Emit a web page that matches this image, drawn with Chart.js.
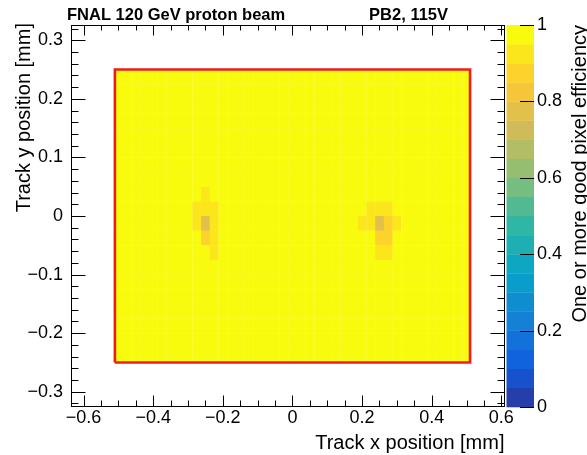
<!DOCTYPE html>
<html>
<head>
<meta charset="utf-8">
<script src="https://cdn.jsdelivr.net/npm/chart.js@4.4.1/dist/chart.umd.min.js"></script>
<style>
  html, body { margin: 0; padding: 0; background: #ffffff; }
  canvas { display: block; }
</style>
</head>
<body>
<canvas id="map" width="587" height="455"></canvas>
<script>
// ---- Efficiency map data (track positions in mm) ----
const xBinCenters = [-0.5, -0.475, -0.45, -0.425, -0.4, -0.375, -0.35, -0.325, -0.3, -0.275,
  -0.25, -0.225, -0.2, -0.175, -0.15, -0.125, -0.1, -0.075, -0.05, -0.025,
  0, 0.025, 0.05, 0.075, 0.1, 0.125, 0.15, 0.175, 0.2, 0.225,
  0.25, 0.275, 0.3, 0.325, 0.35, 0.375, 0.4, 0.425, 0.45, 0.475, 0.5];

// rows listed from the top of the sensor downwards
const yBinCenters = [0.2375, 0.2125, 0.1875, 0.1625, 0.1375, 0.1125, 0.0875, 0.0625, 0.0375, 0.0125,
  -0.0125, -0.0375, -0.0625, -0.0875, -0.1125, -0.1375, -0.1625, -0.1875, -0.2125, -0.2375];

// one-or-more-good-pixel efficiency per bin, one row per yBinCenters entry
const efficiencyRows = [
  [1,1,1,1,1,1,1,1,1,1, 1,1,1,1,1,1,1,1,1,1, 1,1,1,1,1,1,1,1,1,1, 1,1,1,1,1,1,1,1,1,1,1],
  [1,1,1,1,1,1,1,1,1,1, 1,1,1,1,1,1,1,1,1,1, 1,1,1,1,1,1,1,1,1,1, 1,1,1,1,1,1,1,1,1,1,1],
  [1,1,1,1,1,1,1,1,1,1, 1,1,1,1,1,1,1,1,1,1, 1,1,1,1,1,1,1,1,1,1, 1,1,1,1,1,1,1,1,1,1,1],
  [1,1,1,1,1,1,1,1,1,1, 1,1,1,1,1,1,1,1,1,1, 1,1,1,1,1,1,1,1,1,1, 1,1,1,1,1,1,1,1,1,1,1],
  [1,1,1,1,1,1,1,1,1,1, 1,1,1,1,1,1,1,1,1,1, 1,1,1,1,1,1,1,1,1,1, 1,1,1,1,1,1,1,1,1,1,1],
  [1,1,1,1,1,1,1,1,1,1, 1,1,1,1,1,1,1,1,1,1, 1,1,1,1,1,1,1,1,1,1, 1,1,1,1,1,1,1,1,1,1,1],
  [1,1,1,1,1,1,1,1,1,1, 1,1,1,1,1,1,1,1,1,1, 1,1,1,1,1,1,1,1,1,1, 1,1,1,1,1,1,1,1,1,1,1],
  [1,1,1,1,1,1,1,1,1,1, 1,1,1,1,1,1,1,1,1,1, 1,1,1,1,1,1,1,1,1,1, 1,1,1,1,1,1,1,1,1,1,1],
  [1,1,1,1,1,1,1,1,1,1, 0.93,1,1,1,1,1,1,1,1,1, 1,1,1,1,1,1,1,1,1,1, 1,1,1,1,1,1,1,1,1,1,1],
  [1,1,1,1,1,1,1,1,1,0.93, 0.93,0.93,1,1,1,1,1,1,1,1, 1,1,1,1,1,1,1,1,1,0.93, 0.93,0.93,1,1,1,1,1,1,1,1,1],
  [1,1,1,1,1,1,1,1,1,0.93, 0.78,0.93,1,1,1,1,1,1,1,1, 1,1,1,1,1,1,1,1,0.94,0.93, 0.78,0.86,0.94,1,1,1,1,1,1,1,1],
  [1,1,1,1,1,1,1,1,1,1, 0.86,0.93,1,1,1,1,1,1,1,1, 1,1,1,1,1,1,1,1,1,1, 0.86,0.86,1,1,1,1,1,1,1,1,1],
  [1,1,1,1,1,1,1,1,1,1, 1,0.93,1,1,1,1,1,1,1,1, 1,1,1,1,1,1,1,1,1,1, 0.93,0.93,1,1,1,1,1,1,1,1,1],
  [1,1,1,1,1,1,1,1,1,1, 1,1,1,1,1,1,1,1,1,1, 1,1,1,1,1,1,1,1,1,1, 1,1,1,1,1,1,1,1,1,1,1],
  [1,1,1,1,1,1,1,1,1,1, 1,1,1,1,1,1,1,1,1,1, 1,1,1,1,1,1,1,1,1,1, 1,1,1,1,1,1,1,1,1,1,1],
  [1,1,1,1,1,1,1,1,1,1, 1,1,1,1,1,1,1,1,1,1, 1,1,1,1,1,1,1,1,1,1, 1,1,1,1,1,1,1,1,1,1,1],
  [1,1,1,1,1,1,1,1,1,1, 1,1,1,1,1,1,1,1,1,1, 1,1,1,1,1,1,1,1,1,1, 1,1,1,1,1,1,1,1,1,1,1],
  [1,1,1,1,1,1,1,1,1,1, 1,1,1,1,1,1,1,1,1,1, 1,1,1,1,1,1,1,1,1,1, 1,1,1,1,1,1,1,1,1,1,1],
  [1,1,1,1,1,1,1,1,1,1, 1,1,1,1,1,1,1,1,1,1, 1,1,1,1,1,1,1,1,1,1, 1,1,1,1,1,1,1,1,1,1,1],
  [1,1,1,1,1,1,1,1,1,1, 1,1,1,1,1,1,1,1,1,1, 1,1,1,1,1,1,1,1,1,1, 1,1,1,1,1,1,1,1,1,1,1]
];

// sensor outline (mm)
const sensorX = [-0.51, 0.51];
const sensorY = [-0.25, 0.25];

// labelled ticks
const xTickLabels = [-0.6, -0.4, -0.2, 0, 0.2, 0.4, 0.6];
const yTickLabels = [-0.3, -0.2, -0.1, 0, 0.1, 0.2, 0.3];
const zTickLabels = [0, 0.2, 0.4, 0.6, 0.8, 1];

const headerLeft = 'FNAL 120 GeV proton beam';
const headerRight = 'PB2, 115V';
const xTitle = 'Track x position [mm]';
const yTitle = 'Track y position [mm]';
const zTitle = 'One or more good pixel efficiency';

// ---- styling ----
const binWidth = 0.025;
const nLevels = 20;
const cellOverlap = 0.3;   // px, keeps only a faint seam between neighbouring bins
const FONT = "'Liberation Sans', Arial, Helvetica, sans-serif";

// ROOT "bird" palette
const birdStops = [0.0, 0.125, 0.25, 0.375, 0.5, 0.625, 0.75, 0.875, 1.0];
const birdRed   = [0.2082, 0.0592, 0.0780, 0.0232, 0.1802, 0.5301, 0.8186, 0.9956, 0.9764];
const birdGreen = [0.1664, 0.3599, 0.5041, 0.6419, 0.7178, 0.7492, 0.7328, 0.7862, 0.9832];
const birdBlue  = [0.5293, 0.8684, 0.8385, 0.7914, 0.6425, 0.4662, 0.3499, 0.1968, 0.0539];

function birdColor(t) {
  t = Math.max(0, Math.min(1, t));
  let i = 0;
  while (i < birdStops.length - 2 && t > birdStops[i + 1]) i++;
  const f = (t - birdStops[i]) / (birdStops[i + 1] - birdStops[i]);
  const mix = a => Math.round(255 * (a[i] + (a[i + 1] - a[i]) * f));
  return `rgb(${mix(birdRed)},${mix(birdGreen)},${mix(birdBlue)})`;
}
function levelColor(v) {
  const k = Math.min(nLevels - 1, Math.max(0, Math.floor(v * nLevels + 1e-9)));
  return birdColor((k + 0.99) / nLevels);
}

function fmtTick(v) {
  if (Math.abs(v) < 1e-9) return '0';
  return (v < 0 ? '\u2212' : '') + String(Math.round(Math.abs(v) * 100) / 100);
}
function labelFrom(list) {
  return function (value) {
    const hit = list.find(t => Math.abs(t - value) < 1e-6);
    return hit === undefined ? '' : fmtTick(hit);
  };
}
function isLabelled(list, value) {
  return list.some(t => Math.abs(t - value) < 1e-6);
}

// cells for the library dataset
const cells = [];
yBinCenters.forEach((yc, r) => {
  xBinCenters.forEach((xc, c) => {
    cells.push({ x: xc, y: yc, v: efficiencyRows[r][c] });
  });
});
const outline = [
  { x: sensorX[0], y: sensorY[0] }, { x: sensorX[0], y: sensorY[1] },
  { x: sensorX[1], y: sensorY[1] }, { x: sensorX[1], y: sensorY[0] },
  { x: sensorX[0], y: sensorY[0] }
];

function drawTicks(chart) {
  const { ctx, chartArea: a } = chart;
  const sx = chart.scales.x, sy = chart.scales.y, sz = chart.scales.z;
  const L = Math.round(a.left) + 0.5, R = Math.round(a.right) - 0.5;
  const T = Math.round(a.top) + 0.5, B = Math.round(a.bottom) - 0.5;
  const barR = a.right + 29.5;

  ctx.save();
  ctx.strokeStyle = '#000000';
  ctx.lineWidth = 1;
  ctx.strokeRect(L, T, R - L, B - T);

  const xv = sx.getTicks().map(t => t.value);
  const yv = sy.getTicks().map(t => t.value);
  const zv = sz.getTicks().map(t => t.value);

  ctx.beginPath();
  xv.forEach(v => {
    const px = Math.round(sx.getPixelForValue(v)) + 0.5;
    const major = isLabelled(xTickLabels, v);
    ctx.moveTo(px, B); ctx.lineTo(px, B - (major ? 11 : 6));
    ctx.moveTo(px, T); ctx.lineTo(px, T + (major ? 10 : 5));
  });
  yv.forEach(v => {
    const py = Math.round(sy.getPixelForValue(v)) + 0.5;
    const len = isLabelled(yTickLabels, v) ? 14 : 7;
    ctx.moveTo(L, py); ctx.lineTo(L + len, py);
    ctx.moveTo(R, py); ctx.lineTo(R - len, py);
  });
  zv.forEach(v => {
    const pz = Math.round(sz.getPixelForValue(v)) + 0.5;
    ctx.moveTo(barR, pz); ctx.lineTo(barR - 14, pz);
  });
  ctx.stroke();
  ctx.restore();
}

const mapPlugin = {
  id: 'efficiencyMap',
  beforeDatasetsDraw(chart) {
    const { ctx, chartArea: a } = chart;
    const sx = chart.scales.x, sy = chart.scales.y, sz = chart.scales.z;
    ctx.save();
    ctx.beginPath();
    ctx.rect(a.left, a.top, a.right - a.left, a.bottom - a.top);
    ctx.clip();
    for (const c of chart.data.datasets[0].data) {
      const x0 = sx.getPixelForValue(c.x - binWidth / 2);
      const x1 = sx.getPixelForValue(c.x + binWidth / 2);
      const y0 = sy.getPixelForValue(c.y + binWidth / 2);
      const y1 = sy.getPixelForValue(c.y - binWidth / 2);
      ctx.fillStyle = levelColor(c.v);
      ctx.fillRect(x0, y0, x1 - x0 + cellOverlap, y1 - y0 + cellOverlap);
    }
    ctx.restore();

    // colour bar
    ctx.save();
    const barL = a.right + 2, barR = a.right + 29.5;
    for (let k = 0; k < nLevels; k++) {
      const p0 = sz.getPixelForValue(k / nLevels);
      const p1 = sz.getPixelForValue((k + 1) / nLevels);
      ctx.fillStyle = birdColor((k + 0.99) / nLevels);
      ctx.fillRect(barL, p1, barR - barL, p0 - p1 + 0.3);
    }
    ctx.restore();
  },
  afterDraw(chart) {
    const { ctx, chartArea: a } = chart;
    drawTicks(chart);

    ctx.save();
    ctx.fillStyle = '#000';
    ctx.textBaseline = 'alphabetic';
    ctx.font = `bold 16.5px ${FONT}`;
    ctx.textAlign = 'left';
    ctx.fillText(headerLeft, 67, 20);
    ctx.textAlign = 'right';
    ctx.fillText(headerRight, 448, 20);

    ctx.font = `20px ${FONT}`;
    ctx.textAlign = 'right';
    ctx.fillText(xTitle, a.right, 449);

    ctx.save();
    ctx.translate(29.5, 23);
    ctx.rotate(-Math.PI / 2);
    ctx.textAlign = 'right';
    ctx.fillText(yTitle, 0, 0);
    ctx.restore();

    ctx.save();
    ctx.translate(586, 25);
    ctx.rotate(-Math.PI / 2);
    ctx.textAlign = 'right';
    ctx.fillText(zTitle, 0, 0);
    ctx.restore();
    ctx.restore();
  }
};

const tickFont = { family: FONT, size: 18 };
const fixVertical = w => s => { s.width = w; s.paddingTop = 0; s.paddingBottom = 0; };

new Chart(document.getElementById('map'), {
  type: 'scatter',
  data: {
    datasets: [
      { label: 'efficiency', data: cells, pointRadius: 0, pointHoverRadius: 0, showLine: false, xAxisID: 'x', yAxisID: 'y' },
      { label: 'sensor', type: 'line', data: outline, borderColor: 'rgb(240,28,28)', borderWidth: 2.6,
        pointRadius: 0, fill: false, tension: 0, xAxisID: 'x', yAxisID: 'y' }
    ]
  },
  options: {
    responsive: false,
    animation: false,
    devicePixelRatio: 1,
    events: [],
    layout: { padding: { top: 25, left: 0, right: 0, bottom: 0 } },
    plugins: { legend: { display: false }, tooltip: { enabled: false }, title: { display: false } },
    scales: {
      x: {
        type: 'linear', position: 'bottom', min: -0.636, max: 0.609,
        grid: { display: false, drawTicks: false }, border: { display: false },
        ticks: { stepSize: 0.05, includeBounds: false, autoSkip: false, maxRotation: 0, minRotation: 0,
                 padding: 0, color: '#000', font: tickFont, callback: labelFrom(xTickLabels) },
        afterFit: s => { s.height = 48; s.paddingLeft = 0; s.paddingRight = 0; }
      },
      y: {
        type: 'linear', position: 'left', min: -0.326, max: 0.326,
        grid: { display: false, drawTicks: false }, border: { display: false },
        ticks: { stepSize: 0.02, includeBounds: false, autoSkip: false,
                 padding: 8, color: '#000', font: tickFont, callback: labelFrom(yTickLabels) },
        afterFit: fixVertical(71)
      },
      z: {
        type: 'linear', position: 'right', min: 0, max: 1,
        grid: { display: false, drawTicks: false }, border: { display: false },
        ticks: { stepSize: 0.2, includeBounds: false, autoSkip: false,
                 padding: 32.5, color: '#000', font: tickFont, callback: labelFrom(zTickLabels) },
        afterFit: fixVertical(82.5)
      }
    }
  },
  plugins: [mapPlugin]
});
</script>
</body>
</html>
